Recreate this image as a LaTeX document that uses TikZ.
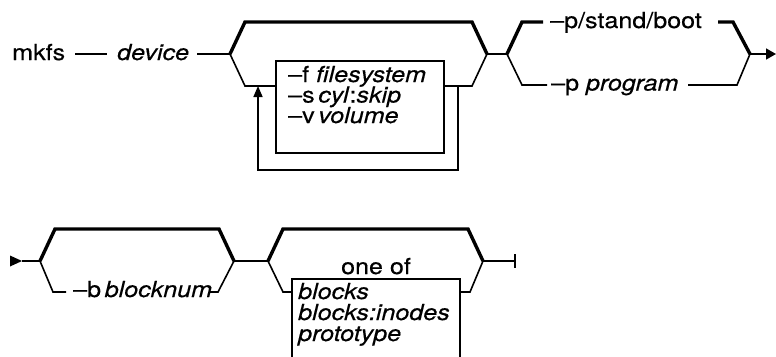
\documentclass[tikz,border=0pt]{standalone}
\usepackage{fontspec}
\setmainfont{TeX Gyre Heros}[FakeStretch=1.14,FakeBold=0.4]
\usetikzlibrary{arrows.meta}
\begin{document}
\begin{tikzpicture}[x=1pt,y=-1pt,
  thinln/.style={line width=1.6pt},
  thickln/.style={line width=3.4pt},
  txt/.style={anchor=base west,inner sep=0pt,font=\fontsize{22}{25}\selectfont},
  txtc/.style={anchor=base,inner sep=0pt,font=\fontsize{22}{25}\selectfont}]
\useasboundingbox (0,0) rectangle (776,356);
% ---------- row 1 ----------
\node[txt] (mkfs) at (12,60) {mkfs};
\coordinate (d1a) at (75,54); \coordinate (d1b) at (107,54);
\node[txt] (dev) at (117,60) {\itshape device};
\coordinate (d2a) at (197,54); \coordinate (B1) at (230,54);
\coordinate (U1a) at (245,22); \coordinate (U1b) at (472,22); \coordinate (J1) at (487,54);
\coordinate (L1a) at (245,86); \coordinate (L1b) at (275,86);
\coordinate (R1a) at (443,86); \coordinate (R1b) at (472,86);
\node[draw,thinln,anchor=north west,minimum width=168pt,minimum height=92pt,inner sep=0pt] (box1) at (275,60) {};
\node[txt] (t1) at (288,82) {–f \textit{filesystem}};
\node[txt] (t2) at (288,102.5) {–s\,\textit{cyl}:\textit{skip}};
\node[txt] (t3) at (288,123) {–v\,\textit{volume}};
\coordinate (Lp1) at (458,86); \coordinate (Lp2) at (458,170);
\coordinate (Lp3) at (258,170); \coordinate (Lp4) at (258,86);
\draw[thinln] (d1a) -- (d1b);
\draw[thinln] (d2a) -- (B1);
\draw[thickln,line join=miter] (B1) -- (U1a) -- (U1b) -- (J1);
\draw[thinln] (B1) -- (L1a) -- (L1b);
\draw[thinln] (R1a) -- (R1b) -- (J1);
\draw[thinln,-{Triangle[length=11pt,width=9pt]}] (Lp1) -- (Lp2) -- (Lp3) -- (Lp4);
% second choice
\coordinate (B2) at (507,54);
\coordinate (U2a) at (522,22); \coordinate (U2b) at (543,22);
\node[txt] (sb) at (550,28) {–p/stand/boot};
\coordinate (U2c) at (718,22); \coordinate (U2d) at (733,22); \coordinate (J2) at (750,54);
\coordinate (L2a) at (522,85); \coordinate (L2b) at (547,85);
\node[txt] (pp) at (551,90.5) {–p \textit{program}};
\coordinate (L2c) at (688,85); \coordinate (L2d) at (737,85);
\coordinate (E1) at (776,54);
\draw[thinln] (J1) -- (B2);
\draw[thickln,line join=miter] (B2) -- (U2a) -- (U2b);
\draw[thickln,line join=miter] (U2c) -- (U2d) -- (J2);
\draw[thinln] (B2) -- (L2a) -- (L2b);
\draw[thinln] (L2c) -- (L2d) -- (J2);
\draw[thinln,-{Triangle[length=10pt,width=11pt]}] (J2) -- (E1);
% ---------- row 2 ----------
\coordinate (S2) at (10,261); \coordinate (A2) at (22,261);
\fill (S2) ++(0,-5.5) -- ++(12,5.5) -- ++(-12,5.5) -- cycle;
\coordinate (B3) at (40,261);
\coordinate (U3a) at (55,229); \coordinate (U3b) at (219,229); \coordinate (J3) at (234,261);
\coordinate (L3a) at (53,292); \coordinate (L3b) at (66,292);
\node[txt] (bb) at (73,297) {–b\,\textit{blocknum}};
\coordinate (L3c) at (209,292); \coordinate (L3d) at (218,292);
\draw[thinln] (A2) -- (B3);
\draw[thickln,line join=miter] (B3) -- (U3a) -- (U3b) -- (J3);
\draw[thinln] (B3) -- (L3a) -- (L3b);
\draw[thinln] (L3c) -- (L3d) -- (J3);
\coordinate (B4) at (268,261);
\coordinate (U4a) at (283,229); \coordinate (U4b) at (468,229); \coordinate (J4) at (483,261);
\coordinate (L4a) at (283,292); \coordinate (L4b) at (292,292);
\coordinate (R4a) at (460,292); \coordinate (R4b) at (470,292);
\coordinate (bx1) at (292,357); \coordinate (bx2) at (292,279);
\coordinate (bx3) at (460,279); \coordinate (bx4) at (460,357);
\node[txtc] (oneof) at (376,274) {one of};
\node[txt] (k1) at (298,299) {\itshape blocks};
\node[txt] (k2) at (298,320) {\itshape blocks:inodes};
\node[txt] (k3) at (298,341) {\itshape prototype};
\coordinate (E2) at (515,261);
\coordinate (E2t) at (515,254); \coordinate (E2b) at (515,268);
\draw[thinln] (J3) -- (B4);
\draw[thickln,line join=miter] (B4) -- (U4a) -- (U4b) -- (J4);
\draw[thinln] (B4) -- (L4a) -- (L4b);
\draw[thinln] (R4a) -- (R4b) -- (J4);
\draw[thinln] (bx1) -- (bx2) -- (bx3) -- (bx4);
\draw[thinln] (J4) -- (E2);
\draw[thinln] (E2t) -- (E2b);
\end{tikzpicture}
\end{document}
